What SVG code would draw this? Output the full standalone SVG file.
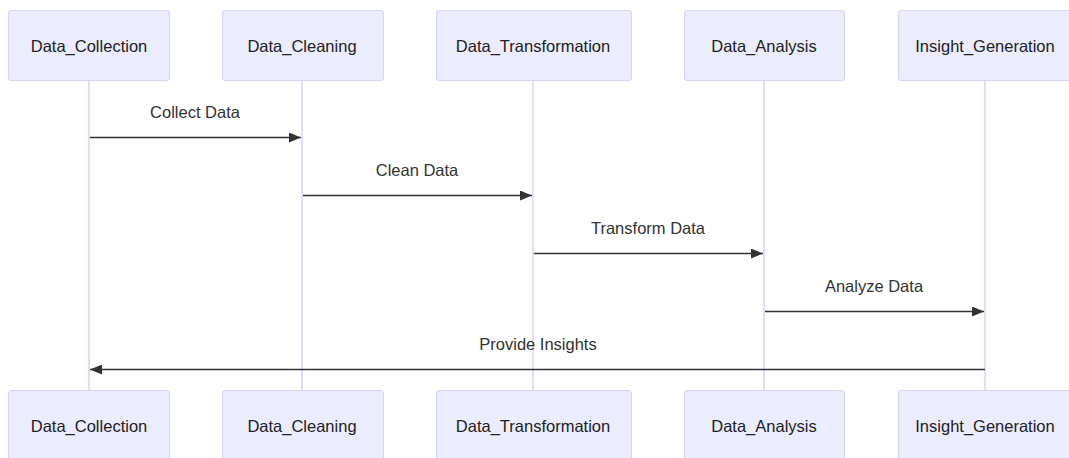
<svg xmlns="http://www.w3.org/2000/svg" width="1069" height="458" viewBox="0 0 1069 458">
  <style>
    .actor { fill: #ECECFF; stroke: #DCD4F7; stroke-width: 1.2; }
    .actor-label { font-family: "Liberation Sans", Arial, sans-serif; font-size: 16.5px; fill: #222; text-anchor: middle; dominant-baseline: central; }
    .lifeline { stroke: #DCD4F7; stroke-width: 1.6; fill: none; }
    .msg { stroke: #333; stroke-width: 1.6; fill: none; }
    .msg-label { font-family: "Liberation Sans", Arial, sans-serif; font-size: 16.5px; fill: #333; text-anchor: middle; dominant-baseline: central; }
  </style>
  <defs>
    <marker id="arrowhead" viewBox="0 0 12 10" refX="12" refY="5" markerWidth="12" markerHeight="10" markerUnits="userSpaceOnUse" orient="auto">
      <path d="M0,0 L12,5 L0,10 z" fill="#333"/>
    </marker>
  </defs>
  <rect width="1069" height="458" fill="#ffffff"/>

  <!-- lifelines -->
  <g id="lifelines">
    <line class="lifeline" x1="89" y1="80" x2="89" y2="390"/>
    <line class="lifeline" x1="302" y1="80" x2="302" y2="390"/>
    <line class="lifeline" x1="533" y1="80" x2="533" y2="390"/>
    <line class="lifeline" x1="764" y1="80" x2="764" y2="390"/>
    <line class="lifeline" x1="985" y1="80" x2="985" y2="390"/>
  </g>

  <!-- participants, top row -->
  <g id="data_collection_top">
    <rect class="actor" x="8.5" y="10.5" width="161" height="70" rx="3"/>
    <text class="actor-label" x="89" y="46">Data_Collection</text>
  </g>
  <g id="data_cleaning_top">
    <rect class="actor" x="222.5" y="10.5" width="161" height="70" rx="3"/>
    <text class="actor-label" x="302" y="46">Data_Cleaning</text>
  </g>
  <g id="data_transformation_top">
    <rect class="actor" x="436.5" y="10.5" width="195" height="70" rx="3"/>
    <text class="actor-label" x="533" y="46">Data_Transformation</text>
  </g>
  <g id="data_analysis_top">
    <rect class="actor" x="684.5" y="10.5" width="160" height="70" rx="3"/>
    <text class="actor-label" x="764" y="46">Data_Analysis</text>
  </g>
  <g id="insight_generation_top">
    <rect class="actor" x="898.5" y="10.5" width="174" height="70" rx="3"/>
    <text class="actor-label" x="985" y="46">Insight_Generation</text>
  </g>

  <!-- participants, bottom row -->
  <g id="data_collection_bottom">
    <rect class="actor" x="8.5" y="390.5" width="161" height="70" rx="3"/>
    <text class="actor-label" x="89" y="426">Data_Collection</text>
  </g>
  <g id="data_cleaning_bottom">
    <rect class="actor" x="222.5" y="390.5" width="161" height="70" rx="3"/>
    <text class="actor-label" x="302" y="426">Data_Cleaning</text>
  </g>
  <g id="data_transformation_bottom">
    <rect class="actor" x="436.5" y="390.5" width="195" height="70" rx="3"/>
    <text class="actor-label" x="533" y="426">Data_Transformation</text>
  </g>
  <g id="data_analysis_bottom">
    <rect class="actor" x="684.5" y="390.5" width="160" height="70" rx="3"/>
    <text class="actor-label" x="764" y="426">Data_Analysis</text>
  </g>
  <g id="insight_generation_bottom">
    <rect class="actor" x="898.5" y="390.5" width="174" height="70" rx="3"/>
    <text class="actor-label" x="985" y="426">Insight_Generation</text>
  </g>

  <!-- messages -->
  <g id="connectors">
    <text class="msg-label" x="195" y="112">Collect Data</text>
    <line class="msg" x1="90" y1="137.5" x2="301" y2="137.5" marker-end="url(#arrowhead)"/>

    <text class="msg-label" x="417" y="170">Clean Data</text>
    <line class="msg" x1="303" y1="195.5" x2="532" y2="195.5" marker-end="url(#arrowhead)"/>

    <text class="msg-label" x="648" y="228">Transform Data</text>
    <line class="msg" x1="534" y1="253.5" x2="763" y2="253.5" marker-end="url(#arrowhead)"/>

    <text class="msg-label" x="874" y="286">Analyze Data</text>
    <line class="msg" x1="765" y1="311.5" x2="984" y2="311.5" marker-end="url(#arrowhead)"/>

    <text class="msg-label" x="538" y="344">Provide Insights</text>
    <line class="msg" x1="985" y1="369.5" x2="90" y2="369.5" marker-end="url(#arrowhead)"/>
  </g>
</svg>
